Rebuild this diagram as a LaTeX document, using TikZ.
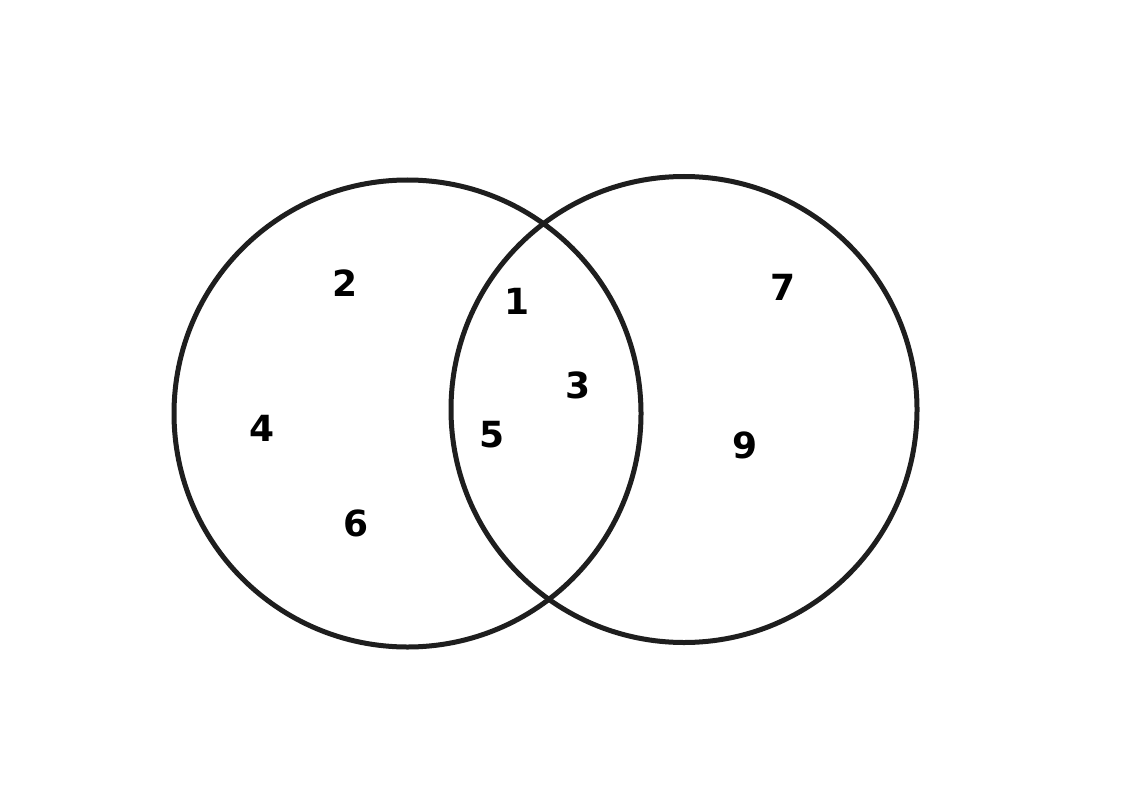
\documentclass[tikz,border=0pt]{standalone}
\usepackage{fontspec}
\setmainfont{DejaVu Sans}
\definecolor{ring}{HTML}{1E1E1E}
\begin{document}
\begin{tikzpicture}[x=1pt,y=-1pt,
  setring/.style={draw=ring,line width=5pt},
  num/.style={font=\bfseries\fontsize{36}{40}\selectfont,inner sep=0pt,anchor=center}]
\useasboundingbox (0,0) rectangle (1123,794);
\fill[white] (0,0) rectangle (1123,794);
\node[setring,circle,minimum size=467pt,inner sep=0pt] (A) at (407.5,413.5) {};
\node[setring,circle,minimum size=466pt,inner sep=0pt] (B) at (684,409.5) {};
\node[num] (n2) at (345,283) {2};
\node[num] (n4) at (262,428) {4};
\node[num] (n6) at (356,523) {6};
\node[num] (n1) at (517,301) {1};
\node[num] (n3) at (578,385) {3};
\node[num] (n5) at (492,435) {5};
\node[num] (n7) at (783,287) {7};
\node[num] (n9) at (745,445) {9};
\end{tikzpicture}
\end{document}
